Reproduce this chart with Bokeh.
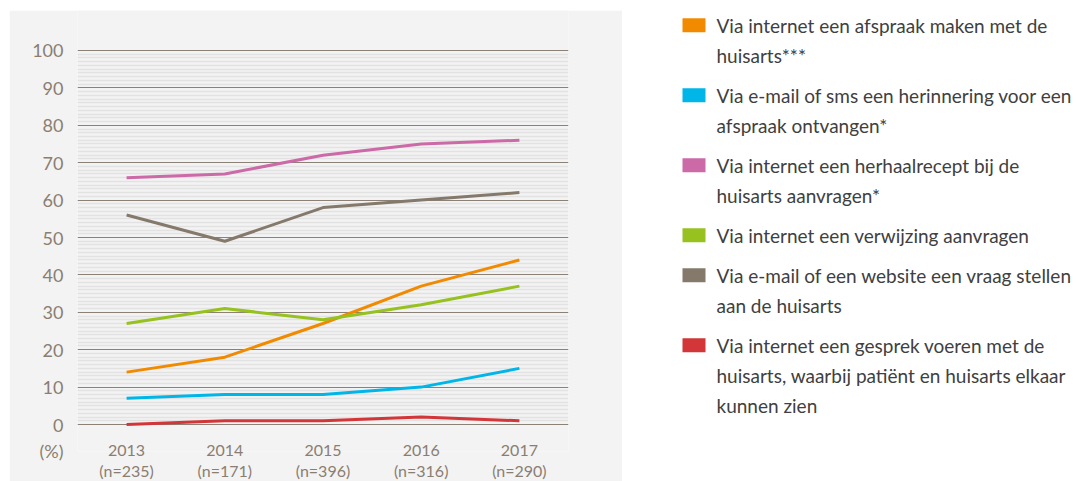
from bokeh.plotting import figure
from bokeh.models import Range1d, FixedTicker, Spacer
from bokeh.layouts import row, column
from bokeh.embed import file_html
from bokeh.resources import INLINE
from bokeh.core.properties import value

# ---------------- data ----------------
years = ["2013", "2014", "2015", "2016", "2017"]
sample_sizes = ["(n=235)", "(n=171)", "(n=396)", "(n=316)", "(n=290)"]

afspraak = [14, 18, 27, 37, 44]
herinnering = [7, 8, 8, 10, 15]
herhaalrecept = [66, 67, 72, 75, 76]
verwijzing = [27, 31, 28, 32, 37]
vraag = [56, 49, 58, 60, 62]
gesprek = [0, 1, 1, 2, 1]

series_values = [afspraak, herinnering, herhaalrecept, verwijzing, vraag, gesprek]
series_labels = [
    "Via internet een afspraak maken met de\nhuisarts***",
    "Via e-mail of sms een herinnering voor een\nafspraak ontvangen*",
    "Via internet een herhaalrecept bij de\nhuisarts aanvragen*",
    "Via internet een verwijzing aanvragen",
    "Via e-mail of een website een vraag stellen\naan de huisarts",
    "Via internet een gesprek voeren met de\nhuisarts, waarbij pati\u00ebnt en huisarts elkaar\nkunnen zien",
]
series_colors = ["#f28a00", "#00b5e8", "#cc6aa8", "#96c11f", "#85796b", "#d23638"]

y_ticks = list(range(0, 101, 10))
y_minor = [v for v in range(1, 100) if v % 10 != 0]
unit_label = "(%)"
unit_tick = -7

FONT = "Lato"
AXIS_COLOR = "#8a7e72"
PANEL = "#f3f3f3"
FRAME_H = 441

# ---------------- chart ----------------
xs = list(range(len(years)))
p = figure(frame_width=491, frame_height=FRAME_H,
           x_range=Range1d(-0.5, len(years) - 0.5), y_range=Range1d(-7.219, 110.695),
           output_backend="svg", toolbar_location=None,
           min_border_left=68, min_border_right=54,
           min_border_top=0, min_border_bottom=30)
p.background_fill_color = PANEL
p.border_fill_color = PANEL
p.outline_line_color = None

p.xgrid.grid_line_color = None
p.ygrid.ticker = FixedTicker(ticks=y_ticks, minor_ticks=y_minor)
p.ygrid.grid_line_color = "#8c8177"
p.ygrid.grid_line_width = 1
p.ygrid.minor_grid_line_color = "#e2e2e2"
p.ygrid.minor_grid_line_width = 1.5

p.yaxis.ticker = FixedTicker(ticks=y_ticks + [unit_tick])
p.yaxis.major_label_overrides = {unit_tick: unit_label}
p.xaxis.ticker = FixedTicker(ticks=xs)
p.xaxis.major_label_overrides = {i: f"{years[i]}\n{sample_sizes[i]}" for i in xs}
for ax in (p.xaxis, p.yaxis):
    ax.axis_line_color = None
    ax.major_tick_line_color = None
    ax.minor_tick_line_color = None
    ax.major_tick_out = 0
    ax.major_tick_in = 0
    ax.minor_tick_out = 0
    ax.major_label_text_font = FONT
    ax.major_label_text_color = AXIS_COLOR
p.yaxis.major_label_text_font_size = "18px"
p.yaxis.major_label_standoff = 14
p.xaxis.major_label_text_font_size = "16px"
p.xaxis.major_label_standoff = -12
p.xaxis.major_label_text_line_height = 1.15

for vals, col in zip(series_values, series_colors):
    p.line(xs, vals, line_color=col, line_width=3)

# ---------------- legend panel ----------------
q = figure(frame_width=455, frame_height=FRAME_H,
           x_range=Range1d(0, 455), y_range=Range1d(FRAME_H, 0),
           output_backend="svg", toolbar_location=None,
           x_axis_type=None, y_axis_type=None,
           min_border_left=0, min_border_right=0, min_border_top=0, min_border_bottom=0)
q.grid.visible = False
q.outline_line_color = None

line_step = 30
item_gap = 40
y_cur = 14.7
sq_y, t_y, t_txt = [], [], []
for lab in series_labels:
    parts = lab.split("\n")
    sq_y.append(y_cur)
    for j, ln in enumerate(parts):
        t_y.append(y_cur + j * line_step)
        t_txt.append(ln)
    y_cur += (len(parts) - 1) * line_step + item_gap

q.rect(x=[71.5] * len(sq_y), y=sq_y, width=23, height=14,
       fill_color=series_colors, line_color=None)
q.text(x=[94] * len(t_y), y=t_y, text=t_txt, text_font=value(FONT),
       text_font_size="19px", text_color="#404040", text_baseline="middle")

layout = column(Spacer(height=10), row(Spacer(width=9), p, q))
open("out.html", "w").write(file_html(layout, INLINE))
